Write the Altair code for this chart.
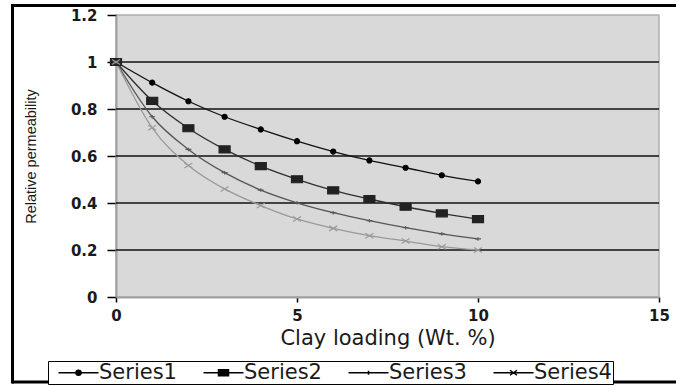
import altair as alt
import pandas as pd

# ---- data ----
clay = [0, 1, 2, 3, 4, 5, 6, 7, 8, 9, 10]
series_names = ["Series1", "Series2", "Series3", "Series4"]
s1 = [1.0, 0.912, 0.833, 0.767, 0.713, 0.663, 0.619, 0.581, 0.550, 0.518, 0.492]
s2 = [1.0, 0.835, 0.718, 0.628, 0.557, 0.501, 0.454, 0.417, 0.384, 0.356, 0.331]
s3 = [1.0, 0.767, 0.628, 0.529, 0.455, 0.401, 0.359, 0.325, 0.295, 0.269, 0.247]
s4 = [1.0, 0.720, 0.560, 0.460, 0.389, 0.332, 0.292, 0.261, 0.238, 0.214, 0.200]
x_ticks = [0, 5, 10, 15]
y_ticks = [0, 0.2, 0.4, 0.6, 0.8, 1.0, 1.2]
grid_values = [0.2, 0.4, 0.6, 0.8, 1.0]

line_colors = ["#111111", "#2e2e2e", "#555555", "#9a9a9a"]
marker_colors = ["#000000", "#222222", "#5a5a5a", "#9a9a9a"]
legend_colors = ["#000000", "#000000", "#000000", "#000000"]
marker_paths = [
    "M0.5,0A0.5,0.5,0,1,1,-0.5,0A0.5,0.5,0,1,1,0.5,0Z",
    "M-1.1,-0.7H1.1V0.7H-1.1Z",
    "M-0.6,0H0.6M0,-0.35V0.35",
    "M-0.8,-0.5L0.8,0.5M-0.8,0.5L0.8,-0.5",
]
legend_paths = [
    "M-4,0H4M0.5,0A0.5,0.5,0,1,1,-0.5,0A0.5,0.5,0,1,1,0.5,0Z",
    "M-4,0H4M-1,-0.6H1V0.6H-1Z",
    "M-4,0H4M0,-0.4V0.4",
    "M-4,0H4M-0.7,-0.5L0.7,0.5M-0.7,0.5L0.7,-0.5",
]

rows = []
for name, vals in zip(series_names, [s1, s2, s3, s4]):
    for xv, yv in zip(clay, vals):
        rows.append({"x": xv, "value": yv, "series": name})
df = pd.DataFrame(rows)

FONT = "DejaVu Sans"
TXT = "#1a1a1a"

x_scale = alt.Scale(domain=[0, 15], nice=False)
y_scale = alt.Scale(domain=[0, 1.2], nice=False)

x_axis = alt.Axis(
    values=x_ticks, format="d", title="Clay loading (Wt. %)",
    titleFont=FONT, titleFontSize=21, titleFontWeight="normal", titleColor=TXT,
    titleY=47, titleBaseline="alphabetic",
    labelFont=FONT, labelFontSize=15, labelFontWeight="bold", labelColor=TXT,
    labelPadding=6, labelFlush=False,
    tickSize=5, tickColor="#000000", tickWidth=1.5,
    domainColor="#a0a0a0", domainWidth=2, grid=False,
)
y_axis = alt.Axis(
    values=y_ticks, format="~g", title="Relative permeability",
    titleFont="Liberation Sans", titleFontSize=14.5, titleFontWeight="normal", titleColor=TXT,
    titleX=-78, titleY=141, titleAngle=270, titleAlign="center", titleBaseline="bottom",
    labelFont=FONT, labelFontSize=15, labelFontWeight="bold", labelColor=TXT,
    labelPadding=10, tickSize=9, tickColor="#000000", tickWidth=1.5,
    domainColor="#a0a0a0", domainWidth=2, grid=False,
)

base = alt.Chart(df)
X = alt.X("x:Q", scale=x_scale, axis=x_axis)
Y = alt.Y("value:Q", scale=y_scale, axis=y_axis)

grid = alt.Chart(alt.Data(values=[{"g": v} for v in grid_values])).mark_rule(
    color="#111111", strokeWidth=1.5
).encode(y=alt.Y("g:Q", scale=y_scale, axis=y_axis))

lines = base.mark_line(interpolate="monotone", strokeWidth=1.3).encode(
    x=X, y=Y,
    color=alt.Color("series:N", scale=alt.Scale(domain=series_names, range=line_colors), legend=None),
)

markers = base.mark_point(filled=True, opacity=1, size=100, strokeWidth=1.2).encode(
    x=X, y=Y,
    fill=alt.Fill("series:N", scale=alt.Scale(domain=series_names, range=marker_colors), legend=None),
    stroke=alt.Stroke("series:N", scale=alt.Scale(domain=series_names, range=marker_colors), legend=None),
    shape=alt.Shape("series:N", scale=alt.Scale(domain=series_names, range=marker_paths), legend=None),
)

leg = alt.Legend(
    title=None, orient="none", legendX=-68, legendY=346,
    direction="horizontal", columns=4,
    strokeColor="black", fillColor="white", padding=1,
    labelFont=FONT, labelFontSize=21, labelColor=TXT,
    labelOffset=10, columnPadding=17, symbolOffset=19,
    symbolStrokeWidth=1.5,
)

legend_layer = base.transform_filter("false").mark_point(
    filled=True, fill="black", strokeWidth=1.5, opacity=1, size=100
).encode(
    x=X, y=Y,
    shape=alt.Shape("series:N", scale=alt.Scale(domain=series_names, range=legend_paths), legend=leg),
    stroke=alt.Stroke("series:N", scale=alt.Scale(domain=series_names, range=legend_colors), legend=leg),
)

frame_data = alt.Data(values=[{"k": 0}])
frame_top = alt.Chart(frame_data).mark_rule(color="black", strokeWidth=3).encode(
    x=alt.value(-104), x2=alt.value(562), y=alt.value(-9.5))
frame_left = alt.Chart(frame_data).mark_rule(color="black", strokeWidth=3).encode(
    x=alt.value(-103.5), y=alt.value(-11), y2=alt.value(368.5))
frame_bottom = alt.Chart(frame_data).mark_rule(color="black", strokeWidth=3).encode(
    x=alt.value(-104), x2=alt.value(562), y=alt.value(367))

chart = alt.layer(
    grid, lines, markers, legend_layer, frame_top, frame_left, frame_bottom
).resolve_scale(
    shape="independent", stroke="independent"
).properties(
    width=543, height=282,
    autosize=alt.AutoSizeParams(type="none"),
    padding={"left": 116, "top": 15, "right": 17, "bottom": 88},
    background="white",
).configure_view(
    fill="#d9d9d9", stroke="#b0b0b0", strokeWidth=1.5
)

chart.save("out.html", embed_options={"renderer": "svg", "actions": False})
